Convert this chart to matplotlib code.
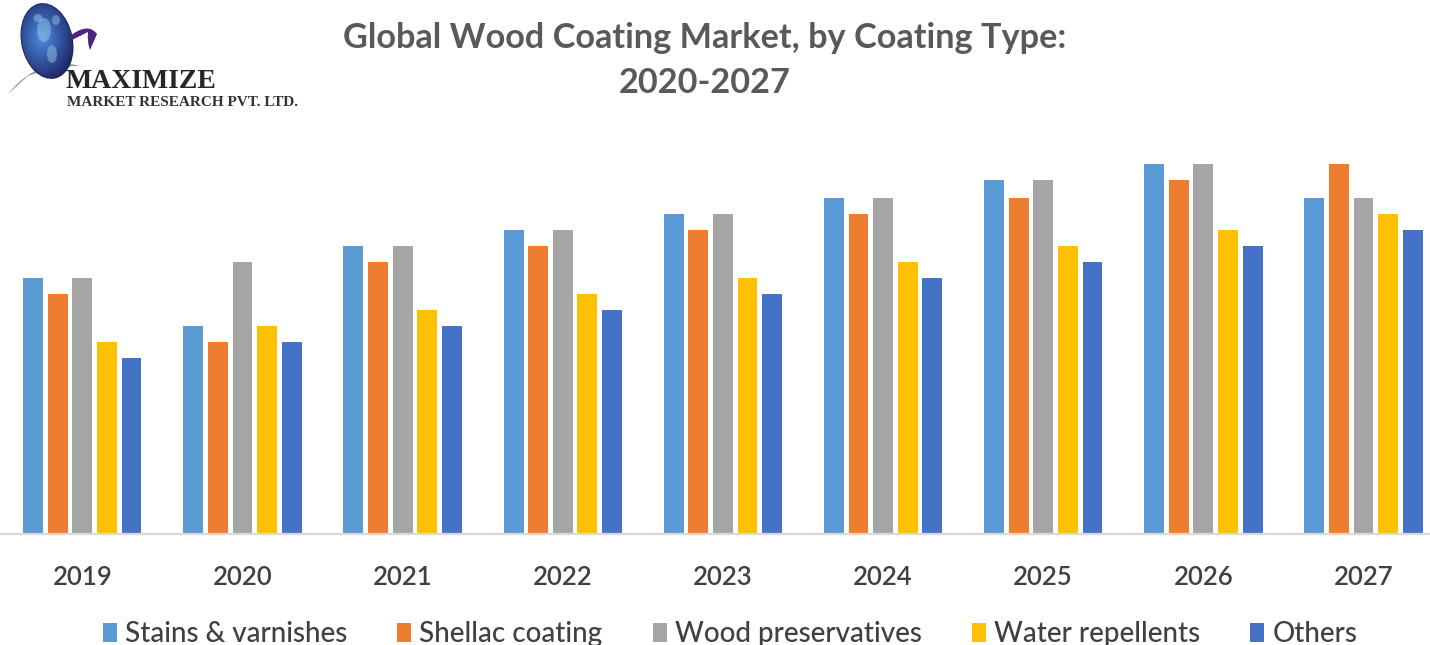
import numpy as np
import matplotlib.pyplot as plt
from matplotlib.patches import Ellipse, PathPatch
from matplotlib.path import Path

# ---------- data
years = ['2019', '2020', '2021', '2022', '2023', '2024', '2025', '2026', '2027']
coating_types = ['Stains & varnishes', 'Shellac coating', 'Wood preservatives',
                 'Water repellents', 'Others']
stains = [16, 13, 18, 19, 20, 21, 22.1, 23.15, 21]
shellac = [15, 12, 17, 18, 19, 20, 21, 22.1, 23.15]
preservatives = [16, 17, 18, 19, 20, 21, 22.1, 23.15, 21]
repellents = [12, 13, 14, 15, 16, 17, 18, 19, 20]
others = [11, 12, 13, 14, 15, 16, 17, 18, 19]
series = [stains, shellac, preservatives, repellents, others]
colors = ['#5B9BD5', '#ED7D31', '#A5A5A5', '#FFC000', '#4472C4']

plt.rcParams['font.family'] = ['Lato', 'DejaVu Sans']
text_grey = '#595959'

W, H = 1430, 645
fig = plt.figure(figsize=(W / 100, H / 100), dpi=100)
fig.patch.set_facecolor('white')

# ---------- bars
ax = fig.add_axes([0, (H - 534) / H, 1, 400 / H])
x = np.arange(len(years))
step = 0.1536
width = 0.124
for i, (vals, c, name) in enumerate(zip(series, colors, coating_types)):
    ax.bar(x + (i - 2) * step, vals, width, color=c, label=name, zorder=2)

ax.set_xlim(-0.514, 8.415)
ax.set_ylim(0, 25)
ax.set_xticks(x)
ax.set_xticklabels(years, fontsize=18.5, color='#404040', fontweight='semibold')
ax.tick_params(axis='x', length=0, pad=22)
ax.set_yticks([])
for s in ['left', 'right', 'top']:
    ax.spines[s].set_visible(False)
ax.spines['bottom'].set_color('#d9d9d9')
ax.spines['bottom'].set_linewidth(1.6)
ax.set_facecolor('none')

leg = ax.legend(ncol=5, loc='center', bbox_to_anchor=(730 / W, (H - 634) / H),
                bbox_transform=fig.transFigure, frameon=False,
                prop={'size': 20, 'weight': 'medium'}, labelcolor='#404040',
                handlelength=0.5, handleheight=0.65, handletextpad=0.3,
                columnspacing=1.8)

# ---------- title
fig.text(705 / W, 1 - 38 / H, 'Global Wood Coating Market, by Coating Type:',
         ha='center', va='center', fontsize=24.7, fontweight='bold', color=text_grey)
fig.text(705 / W, 1 - 83 / H, '2020-2027', ha='center', va='center',
         fontsize=24.7, fontweight='bold', color=text_grey)

# ---------- logo
lg = fig.add_axes([0, 0, 1, 1], zorder=-1)
lg.set_xlim(0, W)
lg.set_ylim(H, 0)
lg.axis('off')

# grey swoosh under the globe
sw = Path([(8, 94), (28, 68), (62, 62), (80, 66), (55, 66), (28, 76), (8, 94)],
          [Path.MOVETO, Path.CURVE3, Path.CURVE3, Path.LINETO,
           Path.CURVE3, Path.CURVE3, Path.CLOSEPOLY])
lg.add_patch(PathPatch(sw, facecolor='#8c8c8c', edgecolor='none', alpha=0.85))

# globe with a radial shading
globe = Ellipse((47, 41), 50, 75, angle=-12, facecolor='none', edgecolor='#1c1c5a', lw=1.2)
lg.add_patch(globe)
gx, gy = np.meshgrid(np.linspace(0, 1, 80), np.linspace(0, 1, 120))
r = np.sqrt((gx - 0.42) ** 2 + (gy - 0.45) ** 2)
shade = np.clip(1 - r * 1.5, 0, 1)
img = np.zeros(gx.shape + (3,))
dark = np.array([0.09, 0.09, 0.33])
light = np.array([0.30, 0.55, 0.88])
img[:] = dark + (light - dark) * shade[..., None]
im = lg.imshow(img, extent=(18, 76, 80, 2), interpolation='bilinear', zorder=1)
im.set_clip_path(globe)
for cx, cy, ew, eh in [(44, 30, 14, 24), (52, 54, 10, 18), (38, 18, 9, 8), (56, 20, 8, 10)]:
    lg.add_patch(Ellipse((cx, cy), ew, eh, facecolor='#a8dcf5', edgecolor='none',
                         alpha=0.4, zorder=2))

# purple swoosh on the right of the globe
ps = Path([(70, 36), (88, 22), (97, 34), (90, 50), (87, 42), (88, 32), (72, 40), (70, 36)],
          [Path.MOVETO, Path.CURVE3, Path.CURVE3, Path.LINETO,
           Path.CURVE3, Path.CURVE3, Path.LINETO, Path.CLOSEPOLY])
lg.add_patch(PathPatch(ps, facecolor='#4b2580', edgecolor='none', zorder=3))

lg.text(66, 88, 'MAXIMIZE', fontsize=20, fontweight='bold', color='#262626',
        family=['Liberation Serif', 'DejaVu Serif'], ha='left', va='baseline', zorder=4)
lg.text(67, 106, 'MARKET RESEARCH PVT. LTD.', fontsize=11, fontweight='bold',
        color='#333333', family=['Liberation Serif', 'DejaVu Serif'],
        ha='left', va='baseline', zorder=4)

fig.savefig('out.png', dpi=100, facecolor='white')
